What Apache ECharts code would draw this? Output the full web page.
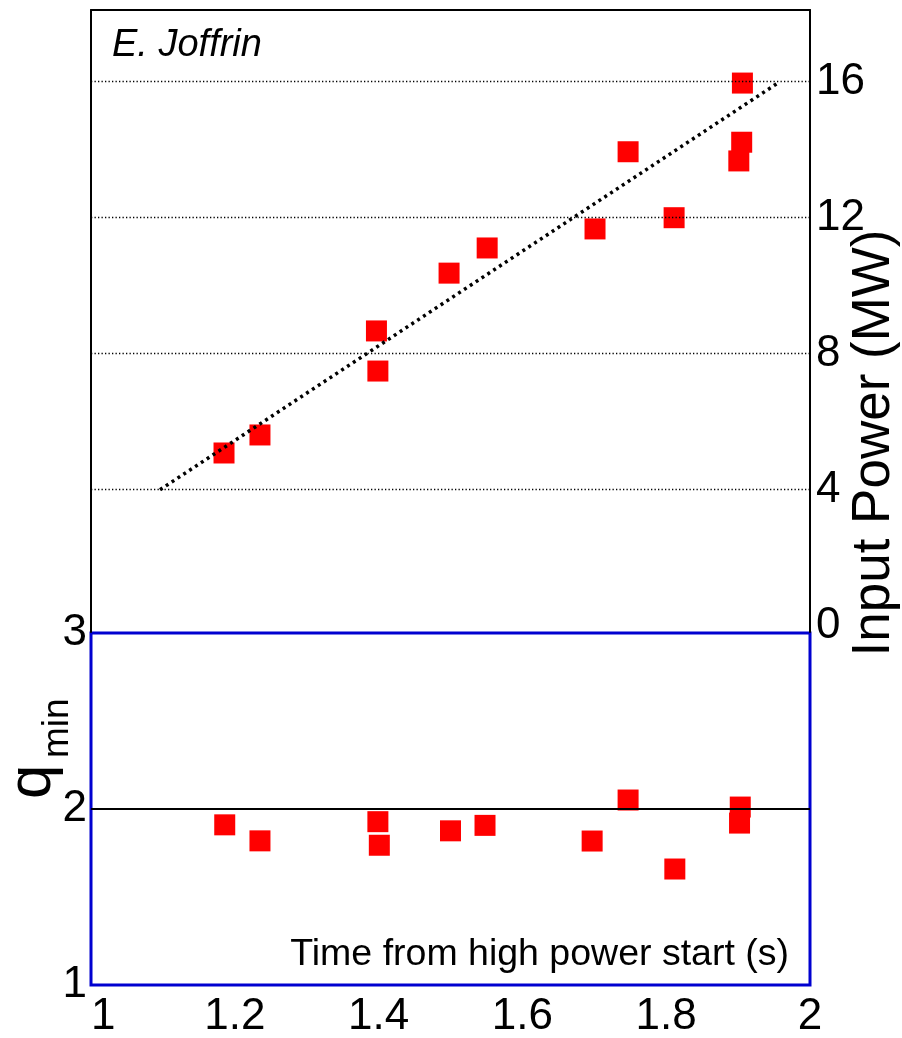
<!DOCTYPE html>
<html>
<head>
<meta charset="utf-8">
<script src="https://cdn.jsdelivr.net/npm/echarts@6/dist/echarts.min.js"></script>
<style>
html,body{margin:0;padding:0;background:#fff;}
#chart{width:902px;height:1038px;}
</style>
</head>
<body>
<div id="chart"></div>
<script>
// ---- data ----
const timeTop  = [1.185, 1.235, 1.397, 1.399, 1.498, 1.551, 1.701, 1.747, 1.811, 1.901, 1.905, 1.906];
const powerTop = [5.08, 5.61, 8.67, 7.49, 10.37, 11.11, 11.67, 13.94, 12.0, 13.67, 14.22, 15.96];
const timeQ    = [1.186, 1.235, 1.399, 1.401, 1.500, 1.548, 1.697, 1.747, 1.812, 1.903, 1.902];
const qmin     = [1.910, 1.819, 1.928, 1.794, 1.876, 1.907, 1.818, 2.051, 1.659, 2.011, 1.920];
const trendTime  = [1.096, 1.958];
const trendPower = [4.0, 16.0];
const powerTicks = [0, 4, 8, 12, 16];
const powerGrid  = [4, 8, 12, 16];
const qTicks     = [1, 2, 3];
const qRef       = [2];
const timeMin = 1, timeMax = 2, timeStep = 0.2;

const FONT = '"Liberation Sans", Arial, sans-serif';
const BLUE = '#0000d0';
const zip = (a, b) => a.map((v, i) => [v, b[i]]);

const chart = echarts.init(document.getElementById('chart'), null, {renderer: 'canvas'});
const option = {
  animation: false,
  backgroundColor: '#fff',
  textStyle: {fontFamily: FONT},
  grid: [
    {left: 91, top: 10, width: 719, height: 622, show: false, outerBoundsMode: 'none', containLabel: false},
    {left: 91, top: 633, width: 719, height: 352, show: true, borderColor: BLUE, borderWidth: 3,
     backgroundColor: 'transparent', outerBoundsMode: 'none', containLabel: false}
  ],
  xAxis: [
    {type: 'value', gridIndex: 0, position: 'top', min: timeMin, max: timeMax, interval: timeStep,
     axisLine: {show: true, onZero: false, lineStyle: {color: '#000', width: 2}},
     axisTick: {show: false}, axisLabel: {show: false}, splitLine: {show: false}},
    {type: 'value', gridIndex: 1, position: 'bottom', min: timeMin, max: timeMax, interval: timeStep,
     axisLine: {show: false}, axisTick: {show: false}, splitLine: {show: false},
     axisLabel: {show: true, fontSize: 44, color: '#000', fontFamily: FONT, margin: 10,
       showMinLabel: true, showMaxLabel: true, alignMinLabel: 'left', hideOverlap: false}}
  ],
  yAxis: [
    {type: 'value', gridIndex: 0, position: 'left', min: -0.185, max: 18.109,
     axisLine: {show: true, onZero: false, lineStyle: {color: '#000', width: 2}},
     axisTick: {show: false}, axisLabel: {show: false}, splitLine: {show: false}},
    {type: 'value', gridIndex: 0, position: 'right', min: -0.185, max: 18.109,
     axisLine: {show: true, onZero: false, lineStyle: {color: '#000', width: 2}},
     axisTick: {show: false},
     axisLabel: {show: true, customValues: powerTicks, fontSize: 44, color: '#000', fontFamily: FONT, margin: 6},
     splitLine: {show: false}},
    {type: 'value', gridIndex: 1, position: 'left', min: 1, max: 3, interval: 1,
     axisLine: {show: false}, axisTick: {show: false}, splitLine: {show: false},
     axisLabel: {show: true, customValues: qTicks, fontSize: 44, color: '#000', fontFamily: FONT, margin: 4,
       padding: [10, 0, 0, 0]}}
  ],
  series: [
    {type: 'line', xAxisIndex: 0, yAxisIndex: 1, data: [], z: 1, silent: true,
     markLine: {silent: true, symbol: 'none', label: {show: false}, animation: false,
       lineStyle: {color: '#000', width: 1.3, type: [1.3, 2.2]},
       data: powerGrid.map(v => ({yAxis: v}))}},
    {type: 'line', xAxisIndex: 1, yAxisIndex: 2, data: [], z: 1, silent: true,
     markLine: {silent: true, symbol: 'none', label: {show: false}, animation: false,
       lineStyle: {color: '#000', width: 2, type: 'solid'},
       data: qRef.map(v => ({yAxis: v}))}},
    {type: 'scatter', xAxisIndex: 0, yAxisIndex: 1, data: zip(timeTop, powerTop), z: 3,
     symbol: 'rect', symbolSize: 21, itemStyle: {color: '#ff0000', opacity: 1}},
    {type: 'line', xAxisIndex: 0, yAxisIndex: 1, data: zip(trendTime, trendPower), z: 5,
     symbol: 'none', showSymbol: false, silent: true,
     lineStyle: {color: '#000', width: 3.5, type: [3, 4]}},
    {type: 'scatter', xAxisIndex: 1, yAxisIndex: 2, data: zip(timeQ, qmin), z: 3,
     symbol: 'rect', symbolSize: 21, itemStyle: {color: '#ff0000', opacity: 1}}
  ],
  graphic: [
    {type: 'text', x: 112, y: 45, z: 10,
     style: {text: 'E. Joffrin', fontSize: 38, fontStyle: 'italic', fontFamily: FONT, fill: '#000',
       align: 'left', verticalAlign: 'middle'}},
    {type: 'text', x: 789, y: 955, z: 10,
     style: {text: 'Time from high power start (s)', fontSize: 37.5, fontFamily: FONT, fill: '#000',
       align: 'right', verticalAlign: 'middle'}},
    {type: 'text', x: 874, y: 443, rotation: Math.PI / 2, z: 10,
     style: {text: 'Input Power (MW)', fontSize: 53, fontFamily: FONT, fill: '#000',
       align: 'center', verticalAlign: 'middle'}},
    {type: 'text', x: 33, y: 799, rotation: Math.PI / 2, z: 10,
     style: {text: 'q', fontSize: 62, fontFamily: FONT, fill: '#000', align: 'left', verticalAlign: 'middle'}},
    {type: 'text', x: 58, y: 758, rotation: Math.PI / 2, z: 10,
     style: {text: 'min', fontSize: 37, fontFamily: FONT, fill: '#000', align: 'left', verticalAlign: 'middle'}}
  ]
};
chart.setOption(option);
</script>
</body>
</html>
